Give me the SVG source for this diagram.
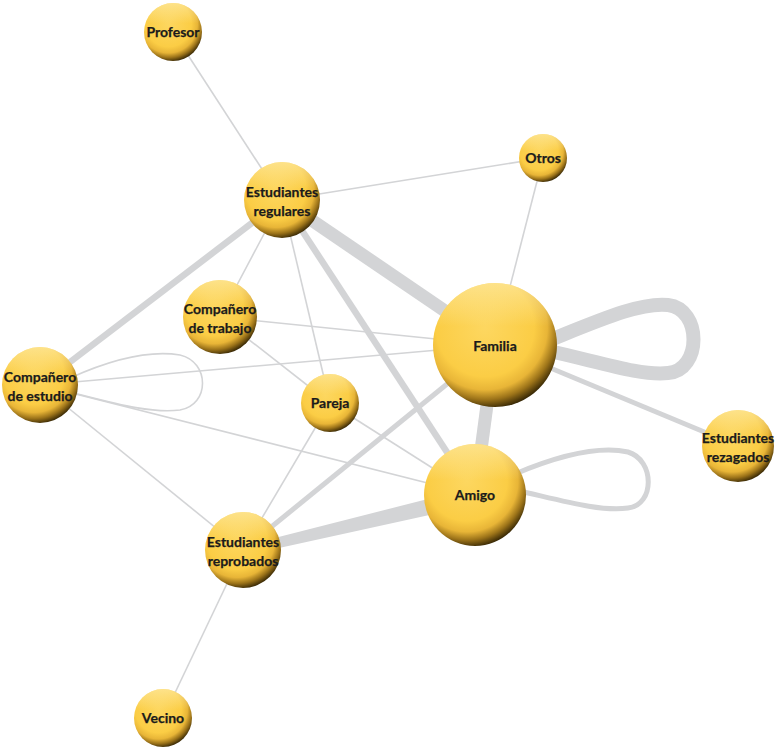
<svg xmlns="http://www.w3.org/2000/svg" width="780" height="749" viewBox="0 0 780 749">
<defs>
<radialGradient id="ball" cx="0.42" cy="0.36" r="0.66">
<stop offset="0" stop-color="#fdd760"/>
<stop offset="0.6" stop-color="#fbcd45"/>
<stop offset="0.76" stop-color="#e8b537"/>
<stop offset="0.88" stop-color="#9c7319"/>
<stop offset="1" stop-color="#352604"/>
</radialGradient>
<linearGradient id="hl" x1="0" y1="0" x2="0" y2="1">
<stop offset="0" stop-color="#fff3c0" stop-opacity="0.55"/>
<stop offset="0.35" stop-color="#fff3c0" stop-opacity="0"/>
</linearGradient>
</defs>
<style>
.e{stroke:#d3d4d6;fill:none;stroke-linecap:butt}
.t1{stroke-width:1.6}
.t5{stroke-width:5}
.t6{stroke-width:6.5}
.t13{stroke-width:13}
.t14{stroke-width:14}
.n circle.b{fill:url(#ball)}
.n circle.h{fill:url(#hl)}
.n text{font-family:Lato,"Open Sans","Liberation Sans",sans-serif;font-weight:bold;font-size:14px;fill:#1b1b1b;stroke:#1b1b1b;stroke-width:0.25;text-anchor:middle}
</style>
<rect width="780" height="749" fill="#ffffff"/>
<g id="connectors">
<line class="e t1" x1="173" y1="32" x2="282" y2="200"/>
<line class="e t1" x1="282" y1="200" x2="543" y2="158"/>
<line class="e t1" x1="543" y1="158" x2="495" y2="345"/>
<line class="e t13" x1="282" y1="200" x2="495" y2="345"/>
<line class="e t6" x1="282" y1="200" x2="475" y2="495"/>
<line class="e t6" x1="282" y1="200" x2="40" y2="385"/>
<line class="e t1" x1="282" y1="200" x2="220" y2="317"/>
<line class="e t1" x1="282" y1="200" x2="330" y2="403"/>
<line class="e t1" x1="220" y1="317" x2="495" y2="345"/>
<line class="e t1" x1="220" y1="317" x2="330" y2="403"/>
<line class="e t1" x1="40" y1="385" x2="495" y2="345"/>
<line class="e t1" x1="40" y1="385" x2="475" y2="495"/>
<line class="e t1" x1="40" y1="385" x2="243" y2="550"/>
<path class="e t1" d="M70 378 C110 360 150 350 180 355 C210 362 210 405 180 410 C150 414 110 402 70 392"/>
<line class="e t1" x1="330" y1="403" x2="475" y2="495"/>
<line class="e t1" x1="330" y1="403" x2="243" y2="550"/>
<line class="e t1" x1="243" y1="550" x2="163" y2="718"/>
<line class="e t5" x1="495" y1="345" x2="243" y2="550"/>
<line class="e t5" x1="495" y1="345" x2="738" y2="446"/>
<line class="e t13" x1="495" y1="345" x2="475" y2="495"/>
<path class="e t14" d="M545 342 C600 320 640 302 668 305 C702 309 702 370 668 373 C640 376 600 362 545 350"/>
<path class="e t5" d="M515 474 C560 455 600 446 628 452 C655 460 655 505 628 508 C600 512 560 500 515 490"/>
<polygon points="243,546 243,556 475,505 475,487" fill="#d3d4d6"/>
</g>
<g id="n-profesor" class="n"><circle class="b" cx="173" cy="32" r="29"/><circle class="h" cx="173" cy="32" r="29"/><text x="173" y="37">Profesor</text></g>
<g id="n-regulares" class="n"><circle class="b" cx="282" cy="200" r="38"/><circle class="h" cx="282" cy="200" r="38"/><text x="282" y="197">Estudiantes</text><text x="282" y="216">regulares</text></g>
<g id="n-otros" class="n"><circle class="b" cx="543" cy="158" r="24"/><circle class="h" cx="543" cy="158" r="24"/><text x="543" y="163">Otros</text></g>
<g id="n-trabajo" class="n"><circle class="b" cx="220" cy="317" r="37"/><circle class="h" cx="220" cy="317" r="37"/><text x="220" y="314">Compañero</text><text x="220" y="333">de trabajo</text></g>
<g id="n-familia" class="n"><circle class="b" cx="495" cy="345" r="62"/><circle class="h" cx="495" cy="345" r="62"/><text x="495" y="351">Familia</text></g>
<g id="n-estudio" class="n"><circle class="b" cx="40" cy="385" r="38"/><circle class="h" cx="40" cy="385" r="38"/><text x="40" y="382">Compañero</text><text x="40" y="401">de estudio</text></g>
<g id="n-pareja" class="n"><circle class="b" cx="330" cy="403" r="29"/><circle class="h" cx="330" cy="403" r="29"/><text x="330" y="408">Pareja</text></g>
<g id="n-rezagados" class="n"><circle class="b" cx="738" cy="446" r="36"/><circle class="h" cx="738" cy="446" r="36"/><text x="738" y="443">Estudiantes</text><text x="738" y="462">rezagados</text></g>
<g id="n-amigo" class="n"><circle class="b" cx="475" cy="495" r="51"/><circle class="h" cx="475" cy="495" r="51"/><text x="475" y="500">Amigo</text></g>
<g id="n-reprobados" class="n"><circle class="b" cx="243" cy="550" r="38"/><circle class="h" cx="243" cy="550" r="38"/><text x="243" y="547">Estudiantes</text><text x="243" y="566">reprobados</text></g>
<g id="n-vecino" class="n"><circle class="b" cx="163" cy="718" r="29"/><circle class="h" cx="163" cy="718" r="29"/><text x="163" y="723">Vecino</text></g>
</svg>
